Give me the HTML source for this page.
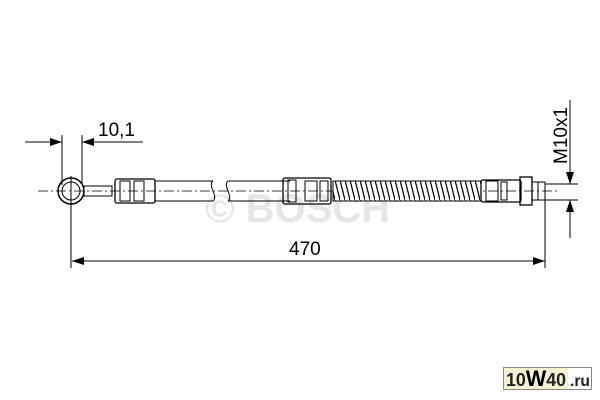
<!DOCTYPE html>
<html><head><style>body{margin:0;background:#fff}svg{display:block}</style></head><body>
<svg width="600" height="400" viewBox="0 0 600 400" xmlns="http://www.w3.org/2000/svg" font-family="Liberation Sans, sans-serif">
<defs><marker id="a" viewBox="0 0 12 8" refX="12" refY="4" markerWidth="12" markerHeight="8" orient="auto" markerUnits="userSpaceOnUse"><path d="M0,0L12,4L0,8z" fill="#000"/></marker>
<pattern id="sp" width="5" height="20" patternUnits="userSpaceOnUse"><rect width="5" height="20" fill="#fff"/><path d="M0,0L5,20" stroke="#000" stroke-width="1.2"/></pattern></defs>
<text x="205" y="222" font-size="40" font-weight="bold" fill="#e6e6e6">© BOSCH</text>
<g stroke="#000" fill="none" stroke-width="1">
<line x1="38" y1="191" x2="560" y2="191" stroke-dasharray="10,3,2,3" stroke-width="0.8"/>
<line x1="62" y1="135" x2="62" y2="185"/><line x1="82" y1="135" x2="82" y2="185"/>
<line x1="25" y1="142" x2="62" y2="142" marker-end="url(#a)"/>
<line x1="143" y1="142" x2="82" y2="142" marker-end="url(#a)"/>
<circle cx="71" cy="191" r="13" stroke-width="1.5"/><circle cx="71" cy="191" r="9"/>
<line x1="71" y1="176" x2="71" y2="268"/>
<rect x="84" y="186" width="28" height="10"/>
<rect x="115" y="179" width="40" height="24" rx="2" stroke-width="1.3"/>
<rect x="120" y="181" width="10" height="20"/><rect x="134" y="181" width="10" height="20"/>
<path d="M155,181H213M155,201H213M228,181H290M228,201H290"/>
<path d="M213,181c-6,5 6,15 0,20M228,181c-6,5 6,15 0,20"/>
<rect x="283" y="178" width="48" height="26" rx="2" stroke-width="1.3"/>
<rect x="288" y="180" width="8" height="22"/><rect x="305" y="181" width="12" height="20"/><rect x="320" y="181" width="8" height="20"/>
<rect x="333" y="181" width="148" height="20" fill="url(#sp)"/>
<rect x="481" y="180" width="40" height="22" rx="2" stroke-width="1.3"/>
<rect x="486" y="181" width="12" height="20"/><rect x="501" y="182" width="6" height="18"/>
<rect x="520" y="177" width="12" height="28" stroke-width="1.3"/>
<rect x="532" y="182" width="13" height="18"/><line x1="538" y1="182" x2="538" y2="200"/>
<line x1="545" y1="185" x2="545" y2="268"/>
<line x1="300" y1="261" x2="72" y2="261" marker-end="url(#a)"/>
<line x1="300" y1="261" x2="545" y2="261" marker-end="url(#a)"/>
<line x1="545" y1="184" x2="578" y2="184"/><line x1="545" y1="200" x2="578" y2="200"/>
<line x1="570" y1="100" x2="570" y2="184" marker-end="url(#a)"/>
<line x1="570" y1="238" x2="570" y2="200" marker-end="url(#a)"/>
</g>
<text x="98" y="136" font-size="19">10,1</text>
<text x="289" y="255" font-size="19">470</text>
<text transform="translate(567,164) rotate(-90)" font-size="19">M10x1</text>
<rect x="503.5" y="367.5" width="88" height="22" fill="#fff" stroke="#888"/>
<rect x="504" y="368" width="64" height="21" fill="#f4f2d0"/>
<text x="506" y="386" font-size="18" font-weight="bold" fill="#222" textLength="60" lengthAdjust="spacingAndGlyphs">10<tspan font-size="22" fill="#000">W</tspan>40</text>
<text x="570" y="386" font-size="16" font-weight="bold" fill="#222" textLength="20" lengthAdjust="spacingAndGlyphs">.ru</text>
</svg>
</body></html>
